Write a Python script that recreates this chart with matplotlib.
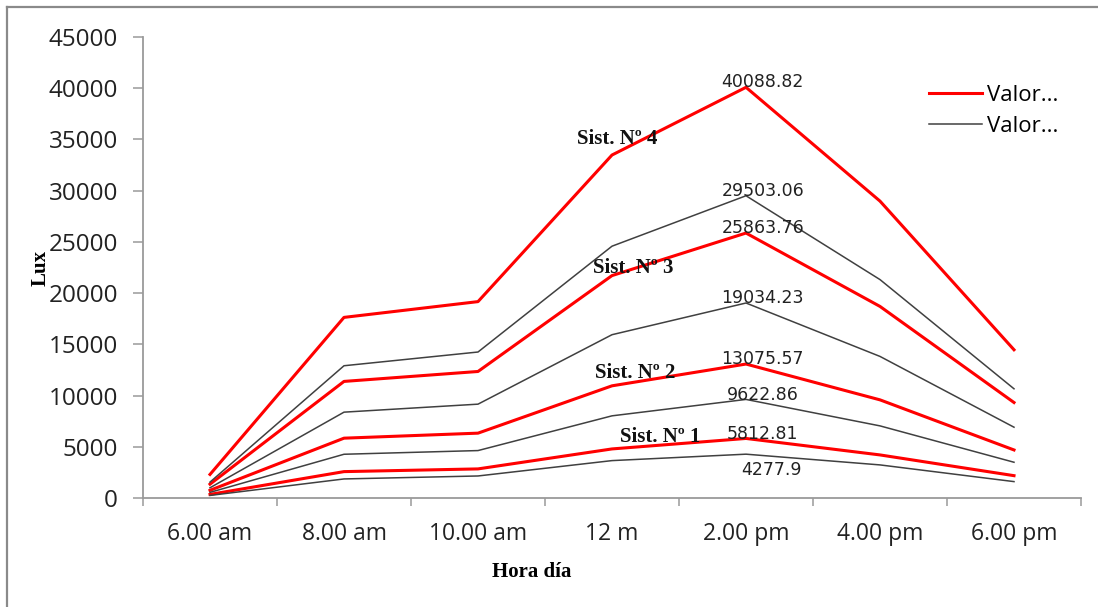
import matplotlib
matplotlib.use('Agg')
import matplotlib.pyplot as plt
from matplotlib.lines import Line2D

# categorias (hora del dia)
horas = ['6.00 am', '8.00 am', '10.00 am', '12 m', '2.00 pm', '4.00 pm', '6.00 pm']

# valores rojos (Sist. Nº 1..4) y negros (entre ellos)
rojo_s1 = [350, 2575, 2840, 4790, 5812.81, 4205, 2180]
negro_1 = [250, 1860, 2150, 3650, 4277.9, 3230, 1600]
rojo_s2 = [750, 5840, 6330, 10950, 13075.57, 9580, 4690]
negro_2 = [550, 4270, 4630, 8020, 9622.86, 7040, 3490]
rojo_s3 = [1350, 11380, 12350, 21710, 25863.76, 18700, 9320]
negro_3 = [1000, 8380, 9160, 15940, 19034.23, 13820, 6910]
rojo_s4 = [2300, 17630, 19170, 33480, 40088.82, 28980, 14470]
negro_4 = [1550, 12910, 14250, 24580, 29503.06, 21320, 10660]

rojos = [rojo_s1, rojo_s2, rojo_s3, rojo_s4]
negros = [negro_1, negro_2, negro_3, negro_4]

# etiquetas de valores mostradas en 2.00 pm
etiquetas = ['5812.81', '13075.57', '25863.76', '40088.82',
             '4277.9', '9622.86', '19034.23', '29503.06']

# etiquetas de sistemas (posicion en datos)
sist_txt = ['Sist. Nº 1', 'Sist. Nº 2', 'Sist. Nº 3', 'Sist. Nº 4']
sist_x = [3.36, 3.17, 3.16, 3.04]
sist_y = [5970, 12220, 22490, 35010]

ROJO = '#ff0000'
NEGRO = '#404040'

fig = plt.figure(figsize=(10.98, 6.07), dpi=100)
ax = fig.add_axes([143/1098, 1 - 498/607, (1081 - 143)/1098, (498 - 37)/607])

x = list(range(len(horas)))
for r, n in zip(rojos, negros):
    ax.plot(x, r, color=ROJO, lw=2.2)
    ax.plot(x, n, color=NEGRO, lw=1.1)

for serie, txt in zip(rojos + negros, etiquetas):
    v = serie[4]
    if txt == '4277.9':
        ax.annotate(txt, (4, v), xytext=(18, -5), textcoords='offset points',
                    ha='center', va='top', fontsize=12.5, family='DejaVu Sans',
                    color='#222222')
    else:
        ax.annotate(txt, (4, v), xytext=(12, -3), textcoords='offset points',
                    ha='center', va='bottom', fontsize=12.5, family='DejaVu Sans',
                    color='#222222')

for t, sx, sy in zip(sist_txt, sist_x, sist_y):
    ax.text(sx, sy, t, ha='center', va='center', fontsize=15,
            family='Liberation Serif', fontweight='bold', color='#111111')

ax.set_xlim(-0.5, 6.5)
ax.set_ylim(0, 45000)
ax.set_yticks(range(0, 45001, 5000))
ax.set_xticks(x)
ax.set_xticklabels(horas)
ax.set_xticks([i - 0.5 for i in range(len(horas) + 1)], minor=True)

for s in ['top', 'right']:
    ax.spines[s].set_visible(False)
for s in ['left', 'bottom']:
    ax.spines[s].set_color('#9a9a9a')
    ax.spines[s].set_linewidth(1.3)

ax.tick_params(axis='y', which='major', length=7, width=1.1, color='#9a9a9a',
               direction='out', pad=11, labelsize=17.5, labelcolor='#222222')
ax.tick_params(axis='x', which='major', length=0, pad=17, labelsize=16.5,
               labelcolor='#222222')
ax.tick_params(axis='x', which='minor', length=6, width=1.1, color='#9a9a9a',
               direction='out')
for lab in ax.get_xticklabels() + ax.get_yticklabels():
    lab.set_family('Open Sans')

ax.set_ylabel('Lux', family='Liberation Serif', fontweight='bold', fontsize=15)
ax.set_xlabel('Hora día', family='Liberation Serif', fontweight='bold',
              fontsize=15)
ax.yaxis.set_label_coords(-92/938, (498 - 268)/461)
ax.xaxis.set_label_coords((532 - 143)/938, -(562 - 498)/461)

handles = [Line2D([], [], color=ROJO, lw=2.2), Line2D([], [], color=NEGRO, lw=1.1)]
leg = ax.legend(handles, ['Valor...', 'Valor...'], loc='upper left',
                bbox_to_anchor=((920 - 143)/938, (498 - 76)/461), frameon=False,
                prop={'family': 'Open Sans', 'size': 16}, handlelength=2.4,
                handletextpad=0.2, labelspacing=0.45, borderaxespad=0)

# marco del area del grafico (solo superior e izquierda visibles)
fig.add_artist(Line2D([7/1098, 1], [1 - 7/607, 1 - 7/607], color='#8a8a8a', lw=1.6))
fig.add_artist(Line2D([7/1098, 7/1098], [0, 1 - 7/607], color='#8a8a8a', lw=1.6))

fig.savefig('out.png', dpi=100)
